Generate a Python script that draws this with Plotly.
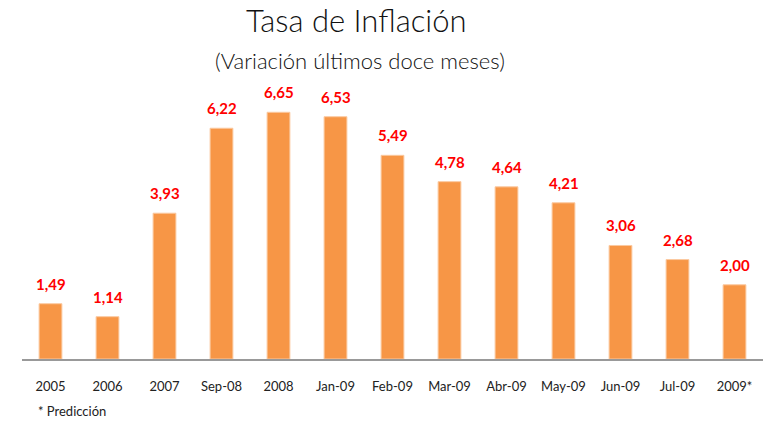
import plotly.graph_objects as go

categories = ["2005", "2006", "2007", "Sep-08", "2008", "Jan-09", "Feb-09",
              "Mar-09", "Abr-09", "May-09", "Jun-09", "Jul-09", "2009*"]
values = [1.49, 1.14, 3.93, 6.22, 6.65, 6.53, 5.49, 4.78, 4.64, 4.21, 3.06, 2.68, 2.00]
value_labels = [f"{v:.2f}".replace(".", ",") for v in values]

FONT = "Lato, Open Sans, sans-serif"

fig = go.Figure()
fig.add_trace(go.Bar(
    x=categories, y=values,
    marker=dict(color="#F79646", line=dict(color="#FBC9A0", width=1)),
    hoverinfo="x+y",
))

# category axis: annotation x as serial index of the category
for i, (v, t) in enumerate(zip(values, value_labels)):
    fig.add_annotation(x=i, y=v, text=f"<b>{t}</b>", showarrow=False,
                       yanchor="bottom", yshift=9,
                       font=dict(family=FONT, size=15, color="#FF0000"))

fig.add_annotation(xref="paper", yref="paper", x=0.452, y=1.0, yshift=60,
                   text="Tasa de Inflación", showarrow=False, yanchor="middle",
                   font=dict(family=FONT, size=31, color="#111111", weight=300))
fig.add_annotation(xref="paper", yref="paper", x=0.456, y=1.0, yshift=20,
                   text="(Variación últimos doce meses)", showarrow=False, yanchor="middle",
                   font=dict(family=FONT, size=22, color="#111111", weight=300))
fig.add_annotation(xref="paper", yref="paper", x=0.0, y=0.0, xshift=14, yshift=-52,
                   text="* Predicción", showarrow=False, xanchor="left", yanchor="middle",
                   font=dict(family=FONT, size=13, color="#222222"))

fig.update_layout(
    width=763, height=423,
    margin=dict(l=22, r=0, t=80, b=64),
    paper_bgcolor="white", plot_bgcolor="white",
    bargap=0.6, showlegend=False,
    font=dict(family=FONT, color="#222222"),
)
fig.update_xaxes(type="category", range=[-0.5, len(categories) - 0.5],
                 showline=True, linecolor="#999999", linewidth=2, ticks="",
                 tickfont=dict(family=FONT, size=13, color="#222222"),
                 ticklabelstandoff=14, showgrid=False, automargin=False)
fig.update_yaxes(range=[0, 7.52], visible=False, showgrid=False, automargin=False)

fig.write_html("out.html", config={"displayModeBar": False},
               post_script="document.body.style.margin='0';document.body.style.overflow='hidden';")
